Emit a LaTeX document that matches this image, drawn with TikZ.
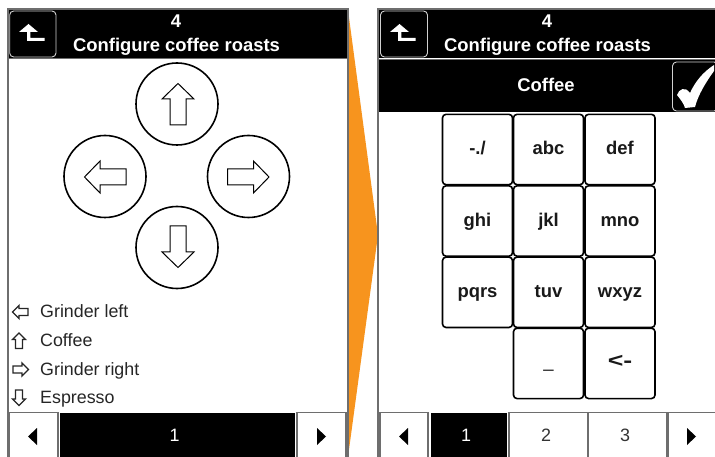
\documentclass[tikz,border=0pt]{standalone}
\usepackage{graphicx}
\usepackage{fontspec}
\setmainfont{Liberation Sans}
\definecolor{roast}{HTML}{F7941E}
\definecolor{frame}{HTML}{6E6E6E}
\tikzset{
  x=1bp,y=-1bp,
  title/.style={text=white,font=\fontsize{18.5}{20}\selectfont\bfseries,inner sep=0pt,anchor=base},
  legend/.style={text=black!85,font=\fontsize{17.9}{20}\selectfont,inner sep=0pt,anchor=base west},
  pageno/.style={font=\fontsize{18}{20}\selectfont,inner sep=0pt,anchor=base},
  key/.style={draw=black,line width=1.6bp,rounded corners=3.5bp,fill=white,minimum width=70bp,minimum height=70.3bp,inner sep=0pt,anchor=center,text height=11bp,text depth=0pt,font=\fontsize{18.5}{20}\selectfont\bfseries,text=black!90},
  softkey/.style={draw=white!82!black,line width=0.9bp,rounded corners=4bp,fill=black},
  ring/.style={circle,draw=black,line width=1.6bp,fill=white,minimum size=82bp,inner sep=0pt},
  navbtn/.style={draw=frame,line width=1.1bp,fill=white},
  bigarrow/.pic={\draw[black,line width=1bp,line join=miter,fill=white]
     (0,-20.5) -- (16,-5) -- (8,-5) -- (8,21) -- (-8,21) -- (-8,-5) -- (-16,-5) -- cycle;},
  smallarrow/.pic={\draw[black!85,line width=1.3bp,line join=miter,fill=white]
     (0,-8) -- (6.5,-1.5) -- (3.5,-1.5) -- (3.5,7.5) -- (-3.5,7.5) -- (-3.5,-1.5) -- (-6.5,-1.5) -- cycle;},
  backicon/.pic={\fill[white] (-9.5,1) -- (0,-7) -- (9.5,1) -- (1.8,1) -- (1.8,7) -- (16,7) -- (16,10) -- (-1.5,10) -- (-1.5,1) -- cycle;}
}
\begin{document}
\begin{tikzpicture}
\useasboundingbox (0,0) rectangle (715,457);
\fill[white] (0,0) rectangle (715,457);
% orange pointer
\fill[roast] (348,10) -- (378,235) -- (348,457) -- cycle;
% left panel
\fill[white] (8,9) rectangle (348,457);
\fill[black] (8,9) rectangle (348,58);
\draw[frame,line width=1.2bp] (8,457) -- (8,9) -- (348,9) -- (348,457);
\draw[frame,line width=0.8bp] (8,58.5) -- (348,58.5);
\draw[softkey] (9.7,11) rectangle (56,57);
\pic at (28.5,31) {backicon};
\node[title] (ltop) at (176,27.7) {4};
\node[title] (ltitle) at (176.5,51.5) {Configure coffee roasts};
\node[ring] (up) at (177,104) {};
\node[ring] (left) at (105,176.5) {};
\node[ring] (right) at (248.5,176.5) {};
\node[ring] (down) at (177,247.5) {};
\pic at (178,104) {bigarrow};
\pic[rotate=90] at (105,177) {bigarrow};
\pic[rotate=-90] at (248.5,177) {bigarrow};
\pic[rotate=180] at (178,247) {bigarrow};
\pic[rotate=90] at (20.5,312) {smallarrow};
\pic at (19,341) {smallarrow};
\pic[rotate=-90] at (20.5,369.5) {smallarrow};
\pic[rotate=180] at (19,397.5) {smallarrow};
\node[legend] (l1) at (40,318) {Grinder left};
\node[legend] (l2) at (40,346.6) {Coffee};
\node[legend] (l3) at (40,375) {Grinder right};
\node[legend] (l4) at (40,403.3) {Espresso};
\fill[black] (60,413) rectangle (295,457);
\draw[navbtn] (9,457) -- (9,412.5) -- (58,412.5) -- (58,457);
\draw[navbtn] (297,457) -- (297,412.5) -- (346,412.5) -- (346,457);
\fill[black] (28,436.5) -- (37,428) -- (37,445) -- cycle;
\fill[black] (326,436.5) -- (317,428) -- (317,445) -- cycle;
\node[pageno,text=white] (lp1) at (174.5,441.7) {1};
% right panel
\fill[white] (378,9) rectangle (715,457);
\fill[black] (378,9) rectangle (715,58);
\fill[black] (379,60) rectangle (715,112);
\draw[frame,line width=1.2bp] (378,457) -- (378,9) -- (715,9);
\draw[frame,line width=0.8bp] (378,59) -- (715,59);
\draw[softkey] (380.5,11) rectangle (427.5,57);
\pic at (399.5,31) {backicon};
\node[title] (rtop) at (547,27.7) {4};
\node[title] (rtitle) at (547.5,51.5) {Configure coffee roasts};
\node[title] (coffee) at (546,91.7) {Coffee};
\draw[softkey] (672.5,62) rectangle (718,111);
\fill[white] (677,95) .. controls (679,89) and (685,86) .. (690,93) .. controls (695,82) and (703,72) .. (714,65) -- (714,71) .. controls (706,82) and (698,95) .. (695,107) -- (685,108) .. controls (684,104) and (681,100) .. (677,95) -- cycle;
\foreach \nm/\kx/\ky/\txt in {k1/477.5/149.5/{-./},k2/548.5/149.5/abc,k3/620/149.5/def,
  k4/477.5/221/ghi,k5/548.5/221/jkl,k6/620/221/mno,
  k7/477.5/292.3/pqrs,k8/548.5/292.3/tuv,k9/620/292.3/wxyz}
  \node[key] (\nm) at (\kx,\ky) {\txt};
\node[key] (k11) at (548.5,363.4) {\raisebox{1.2pt}{\scalebox{1}[1.7]{\_}}};
\node[key] (k12) at (620,363.4) {\raisebox{1.5pt}{\scalebox{1.45}[1.1]{<-}}};
\draw[navbtn] (380,457) -- (380,412.5) -- (428,412.5) -- (428,457);
\fill[black] (431,413) rectangle (507,457);
\draw[navbtn] (509,457) -- (509,412.5) -- (588,412.5) (588,457) -- (588,412.5) -- (667,412.5) -- (667,457);
\draw[navbtn] (668.5,457) -- (668.5,412.5) -- (715,412.5);
\fill[black] (399,436.5) -- (408,428) -- (408,445) -- cycle;
\fill[black] (696,436.5) -- (687,428) -- (687,445) -- cycle;
\node[pageno,text=white] (rp1) at (466,441.7) {1};
\node[pageno,text=black!80] (rp2) at (546,441.7) {2};
\node[pageno,text=black!80] (rp3) at (625,441.7) {3};
\end{tikzpicture}
\end{document}
